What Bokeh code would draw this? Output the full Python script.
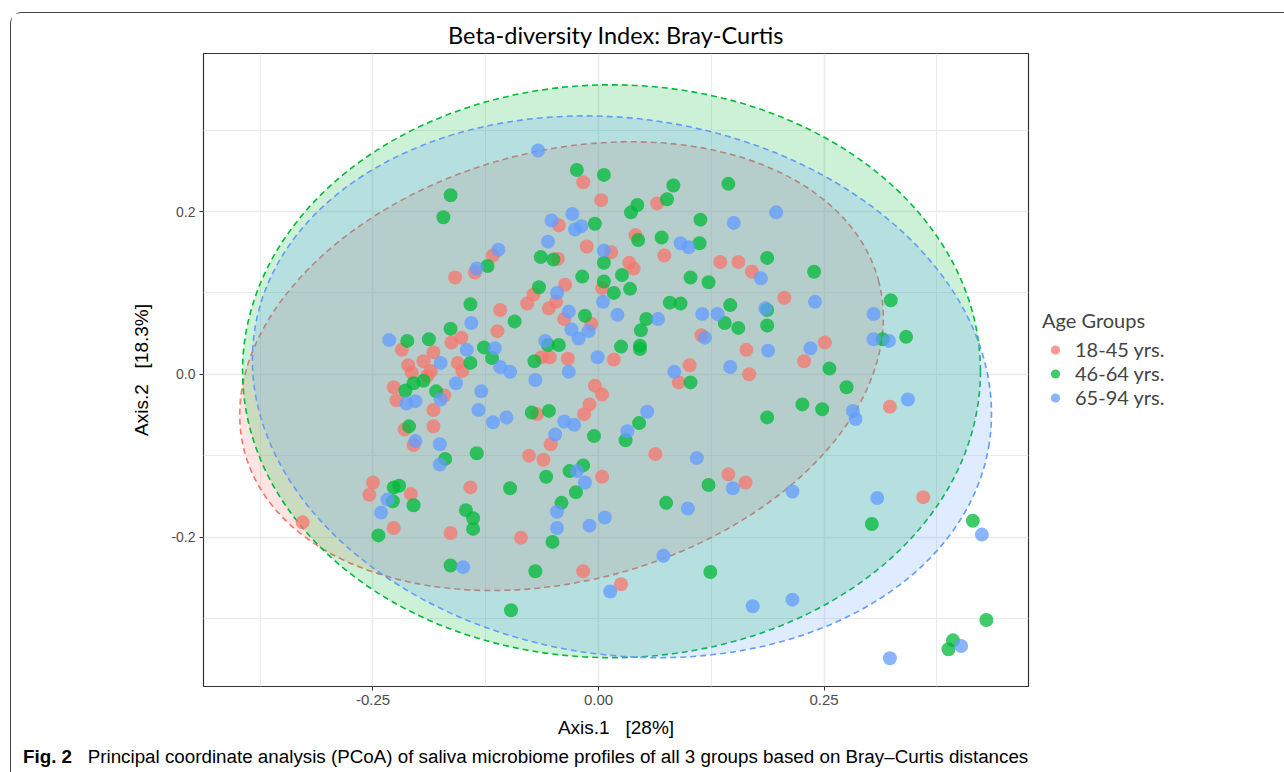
from bokeh.plotting import figure
from bokeh.layouts import column, row
from bokeh.models import (FixedTicker, PrintfTickFormatter, Legend, LegendItem,
                          ColumnDataSource, Div)
from bokeh.embed import file_html
from bokeh.resources import INLINE

# ---------------- data ----------------
groups = ["18-45 yrs.", "46-64 yrs.", "65-94 yrs."]
colors = ["#F8766D", "#00BA38", "#619CFF"]

young_x = [-0.159, -0.137, -0.152, -0.163, -0.218, -0.183, -0.194, -0.211, -0.156,
           -0.017, 0.003, 0.065, -0.044, 0.041, -0.013, 0.014, 0.073, -0.117, -0.045,
           0.034, 0.039, 0.135, 0.155, 0.170,
           -0.037, 0.004, -0.072, -0.079, -0.047, -0.055, -0.109, -0.038, -0.008, -0.112,
           0.114, 0.164, -0.054, -0.063, -0.034, 0.017, 0.101,
           0.206, 0.251, 0.228, 0.089, 0.167, -0.004, 0.004, -0.010, -0.016, -0.068,
           -0.053, -0.077, -0.061, 0.063, 0.004, 0.144, 0.163, -0.086, -0.017, 0.025,
           0.323, 0.360,
           -0.227, -0.224, -0.171, -0.183, -0.215, -0.183, -0.205, -0.250, -0.254, -0.208,
           -0.227, -0.328, -0.164, -0.142,
           -0.151, -0.207, -0.186, -0.190]
young_y = [0.119, 0.125, 0.045, 0.039, 0.030, 0.027, 0.016, 0.011, 0.014,
           0.236, 0.214, 0.210, 0.183, 0.171, 0.157, 0.150, 0.146, 0.146, 0.142,
           0.137, 0.130, 0.138, 0.138, 0.126,
           0.110, 0.106, 0.098, 0.087, 0.089, 0.081, 0.079, 0.068, 0.062, 0.053,
           0.048, 0.030, 0.021, 0.021, 0.019, 0.018, 0.011,
           0.094, 0.039, 0.016, -0.010, 0.000, -0.014, -0.025, -0.037, -0.049, -0.049,
           -0.086, -0.100, -0.105, -0.098, -0.126, -0.123, -0.133, -0.201, -0.242, -0.258,
           -0.040, -0.151,
           -0.016, -0.032, -0.026, -0.044, -0.068, -0.064, -0.087, -0.133, -0.148, -0.147,
           -0.189, -0.182, -0.195, -0.139,
           0.004, 0.002, 0.004, -0.002]

middle_x = [-0.164, -0.172, -0.142, -0.164, -0.212, -0.188, -0.142,
            -0.024, 0.006, 0.083, 0.144, 0.076, 0.043, 0.036, -0.004, 0.113, 0.044, 0.070,
            0.112, -0.064, -0.050, 0.006, -0.123, -0.018, 0.026, 0.102, 0.122, 0.006,
            -0.066, 0.035, 0.017, 0.079, 0.091, 0.146, -0.015, -0.093, 0.053, 0.140,
            0.155, 0.047, -0.056, -0.044, -0.127, -0.118, 0.025, 0.046, 0.046, -0.071,
            0.187, 0.239, 0.187, 0.187, 0.324, 0.315, 0.341, 0.256, 0.102,
            -0.074, -0.055, 0.045, 0.030, -0.005, -0.017, -0.032, -0.058, -0.098, -0.025,
            0.122, 0.075, -0.041, -0.051, -0.070, 0.124, -0.097,
            0.275, 0.226, 0.248, 0.187, 0.303, 0.415, 0.430, 0.393, 0.388,
            -0.214, -0.205, -0.180, -0.210, -0.170, -0.135, -0.227, -0.221, -0.228, -0.205,
            -0.244, -0.147, -0.139, -0.139, -0.164, -0.194]
middle_y = [0.220, 0.193, 0.086, 0.056, 0.041, 0.043, 0.014,
            0.251, 0.245, 0.232, 0.234, 0.215, 0.208, 0.199, 0.185, 0.190, 0.165, 0.168,
            0.161, 0.144, 0.141, 0.137, 0.133, 0.120, 0.122, 0.119, 0.113, 0.114,
            0.107, 0.105, 0.100, 0.088, 0.087, 0.085, 0.072, 0.065, 0.068, 0.063,
            0.057, 0.054, 0.036, 0.036, 0.033, 0.020, 0.034, 0.035, 0.031, 0.016,
            0.143, 0.126, 0.079, 0.060, 0.091, 0.043, 0.046, 0.007, -0.010,
            -0.047, -0.045, -0.060, -0.081, -0.076, -0.112, -0.119, -0.126, -0.140, -0.145,
            -0.136, -0.158, -0.158, -0.206, -0.242, -0.243, -0.290,
            -0.016, -0.037, -0.043, -0.053, -0.184, -0.180, -0.302, -0.327, -0.338,
            -0.020, -0.011, -0.021, -0.064, -0.104, -0.097, -0.139, -0.137, -0.156, -0.161,
            -0.198, -0.167, -0.177, -0.190, -0.235, -0.008]

old_x = [-0.135, -0.141, -0.232, -0.146, -0.175,
         -0.067, -0.029, -0.052, -0.026, -0.019, 0.150, -0.056, 0.091, 0.100, 0.006,
         -0.111, -0.046, 0.005, 0.115, 0.132, 0.021, -0.033, 0.066, -0.030, -0.022,
         -0.011, -0.059, 0.118, -0.115, -0.001, 0.146, -0.109, -0.098, -0.033, 0.084,
         0.197, 0.180, 0.240, 0.185, 0.305, 0.305, 0.322, 0.188, 0.235,
         -0.070, -0.130, -0.133, -0.117, -0.102, -0.038, -0.027, 0.054, 0.032, -0.048,
         0.109, -0.024, -0.015, 0.149, 0.099, -0.046, 0.007, -0.010, -0.046, 0.072,
         0.013, 0.171,
         0.282, 0.285, 0.343, 0.215, 0.309, 0.425, 0.215, 0.402, 0.323,
         -0.213, -0.203, -0.175, -0.158, -0.203, -0.176, -0.176, -0.234, -0.241, -0.150]
old_y = [0.130, 0.063, 0.042, 0.030, 0.014,
         0.275, 0.197, 0.189, 0.178, 0.182, 0.186, 0.163, 0.161, 0.156, 0.152,
         0.153, 0.100, 0.089, 0.074, 0.074, 0.073, 0.077, 0.068, 0.055, 0.044,
         0.053, 0.041, 0.045, 0.032, 0.021, 0.009, 0.009, 0.003, 0.003, 0.003,
         0.199, 0.118, 0.089, 0.081, 0.074, 0.043, 0.041, 0.029, 0.032,
         -0.007, -0.021, -0.044, -0.059, -0.053, -0.058, -0.062, -0.046, -0.070, -0.074,
         -0.103, -0.119, -0.133, -0.140, -0.165, -0.169, -0.176, -0.186, -0.189, -0.223,
         -0.267, -0.285,
         -0.045, -0.055, -0.031, -0.144, -0.152, -0.197, -0.277, -0.334, -0.349,
         -0.036, -0.033, -0.031, -0.011, -0.082, -0.086, -0.111, -0.154, -0.170, -0.237]

# confidence ellipses (centre, full axes, rotation in radians)
ell_cx = [-0.041, 0.0144, 0.026]
ell_cy = [0.010, 0.0037, -0.0154]
ell_w = [0.728, 0.818, 0.824]
ell_h = [0.528, 0.704, 0.659]
ell_angle = [0.265, 0.0, -0.153]

x_ticks = [-0.25, 0.0, 0.25]
x_minor = [-0.375, -0.125, 0.125, 0.375]
y_ticks = [-0.2, 0.0, 0.2]
y_minor = [-0.3, -0.1, 0.1, 0.3]

title_text = "Beta-diversity Index: Bray-Curtis"
x_label = "Axis.1\u00a0\u00a0\u00a0[28%]"
y_label = "Axis.2\u00a0\u00a0\u00a0[18.3%]"
legend_title = "Age Groups"
caption_bold = "Fig. 2"
caption_text = ("Principal coordinate analysis (PCoA) of saliva microbiome profiles of all 3 "
                "groups based on Bray\u2013Curtis distances")

# ---------------- main plot ----------------
p = figure(width=1019, height=730,
           x_range=(-0.4379, 0.4767), y_range=(-0.3837, 0.3942),
           output_backend="svg", toolbar_location=None,
           min_border_left=192, min_border_right=2,
           min_border_top=39, min_border_bottom=57)

p.background_fill_color = "white"
p.border_fill_color = "white"
p.outline_line_color = "#333333"
p.outline_line_width = 1.2

p.title.text = title_text
p.title.align = "center"
p.title.text_font = "Lato"
p.title.text_font_size = "23.5px"
p.title.text_font_style = "normal"
p.title.text_color = "black"

for ax, ticks, minor, fmt in ((p.xaxis[0], x_ticks, x_minor, "%.2f"),
                              (p.yaxis[0], y_ticks, y_minor, "%.1f")):
    ax.ticker = FixedTicker(ticks=ticks, minor_ticks=minor)
    ax.formatter = PrintfTickFormatter(format=fmt)
    ax.axis_line_color = None
    ax.major_tick_line_color = "#333333"
    ax.major_tick_in = 0
    ax.major_tick_out = 4
    ax.minor_tick_line_color = None
    ax.major_label_text_color = "#4D4D4D"
    ax.major_label_text_font = "Liberation Sans"
    ax.major_label_standoff = 4
    ax.axis_label_text_font = "Liberation Sans"
    ax.axis_label_text_font_size = "19px"
    ax.axis_label_text_font_style = "normal"
    ax.axis_label_text_color = "black"

p.xaxis.major_label_text_font_size = "15px"
p.yaxis.major_label_text_font_size = "14px"
p.xaxis.axis_label = x_label
p.yaxis.axis_label = y_label
p.xaxis.axis_label_standoff = 9
p.yaxis.axis_label_standoff = 16

for g in (p.xgrid[0], p.ygrid[0]):
    g.grid_line_color = "#EBEBEB"
    g.grid_line_width = 1.6
    g.minor_grid_line_color = "#EBEBEB"
    g.minor_grid_line_width = 1.0

ell_src = ColumnDataSource(dict(x=ell_cx, y=ell_cy, w=ell_w, h=ell_h, a=ell_angle, c=colors))
p.ellipse(x="x", y="y", width="w", height="h", angle="a", source=ell_src,
          fill_color="c", fill_alpha=0.2, line_color="c", line_dash="6 4", line_width=1.6)

for xs, ys, c in ((young_x, young_y, colors[0]),
                  (middle_x, middle_y, colors[1]),
                  (old_x, old_y, colors[2])):
    p.scatter(xs, ys, size=14, fill_color=c, fill_alpha=0.75, line_color=None)

# ---------------- legend panel ----------------
lp = figure(width=253, height=730, output_backend="svg", toolbar_location=None,
            x_axis_type=None, y_axis_type=None, min_border=0,
            x_range=(0, 1), y_range=(0, 1))
lp.outline_line_color = None
lp.grid.visible = False
lp.background_fill_color = "white"
lp.border_fill_color = "white"

nan = float("nan")
key_renderers = [lp.scatter(x=[nan], y=[nan], size=14, fill_color=c, fill_alpha=0.75,
                            line_color=None) for c in colors]
legend = Legend(items=[LegendItem(label=g, renderers=[r]) for g, r in zip(groups, key_renderers)],
                title=legend_title, location=(12, 277))
legend.title_text_font = "Lato"
legend.title_text_font_size = "20px"
legend.title_text_font_style = "normal"
legend.title_text_line_height = 1.0
legend.title_standoff = 5
legend.label_text_font = "Lato"
legend.label_text_font_size = "20px"
legend.label_text_line_height = 1.0
legend.border_line_color = None
legend.background_fill_alpha = 0
legend.padding = 0
legend.margin = 0
legend.spacing = 0
legend.glyph_width = 26
legend.glyph_height = 23
legend.label_height = 23
legend.label_standoff = 7
lp.add_layout(legend)

caption = Div(text="<b>%s</b>&nbsp;&nbsp;&nbsp;%s" % (caption_bold, caption_text),
              width=1272, height=29,
              styles={"font-family": "'Liberation Sans Narrow', 'Liberation Sans', sans-serif",
                      "font-size": "18.8px", "color": "black", "padding-left": "7px",
                      "white-space": "nowrap", "line-height": "17px"})

page = column(row(p, lp, spacing=0), caption, spacing=0,
              styles={"margin-left": "10px", "margin-top": "12px",
                      "border-top": "1px solid #444444", "border-left": "1px solid #444444",
                      "border-top-left-radius": "12px"})

open("out.html", "w").write(file_html(page, INLINE))
